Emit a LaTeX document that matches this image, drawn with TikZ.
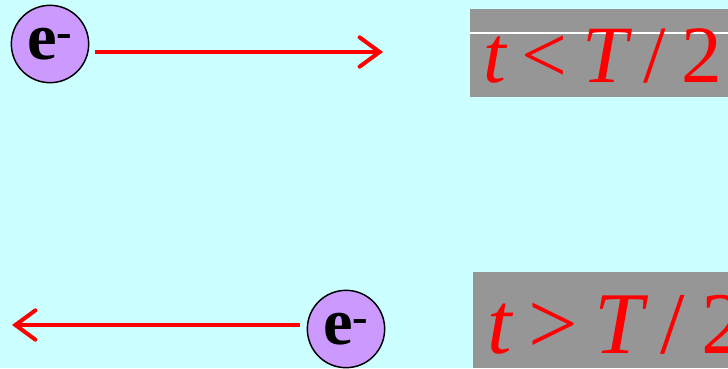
\documentclass[tikz,border=0pt]{standalone}
\usepackage{fontspec}
\setmainfont{Liberation Serif}
\usepackage{tikz}
\usetikzlibrary{arrows.meta, positioning}

\definecolor{bgcyan}{RGB}{204,255,255}
\definecolor{elviolet}{RGB}{204,153,255}
\definecolor{boxgray}{RGB}{150,150,150}

\newcommand{\gap}{\hspace{0.19em}}

\begin{document}
\begin{tikzpicture}[x=0.75pt, y=-0.75pt,
        electron/.style={circle, draw=black, line width=1.1pt, fill=elviolet, minimum size=58pt, inner sep=0pt, font=\fontsize{50}{50}\selectfont\bfseries},
        flow/.style={-{Straight Barb[length=15pt, width=22pt, line cap=round]}, line width=3pt, red},
        timebox/.style={fill=boxgray, draw=none},
        timetext/.style={anchor=base west, inner sep=0pt, text=red}
    ]
        % background
        \fill[bgcyan] (0,0) rectangle (728,368);
        \useasboundingbox (0,0) rectangle (728,368);

        % upper row: electron moving right
        \node[electron] (e1) at (50,44) {e\textsuperscript{-}};
        \coordinate (r1) at (383,52);
        \draw[flow, shorten <=4.5pt] (e1.east |- r1) -- (r1);
        \fill[timebox] (470,9) rectangle (728,97);
        \draw[white, line width=0.8pt] (470,33) -- (728,33);
        \node[timetext, font=\fontsize{61}{61}\selectfont] (t1) at (483,82) {\itshape t\gap\upshape<\gap\itshape T\gap\upshape/\gap 2};

        % lower row: electron moving left
        \node[electron] (e2) at (346,329) {e\textsuperscript{-}};
        \coordinate (l2) at (12,325);
        \draw[flow, shorten <=5pt] (e2.west |- l2) -- (l2);
        \fill[timebox] (473,272) rectangle (728,368);
        \node[timetext, font=\fontsize{66}{66}\selectfont] (t2) at (487,353) {\itshape t\gap\upshape>\gap\itshape T\gap\upshape/\gap 2};
    \end{tikzpicture}
\end{document}
